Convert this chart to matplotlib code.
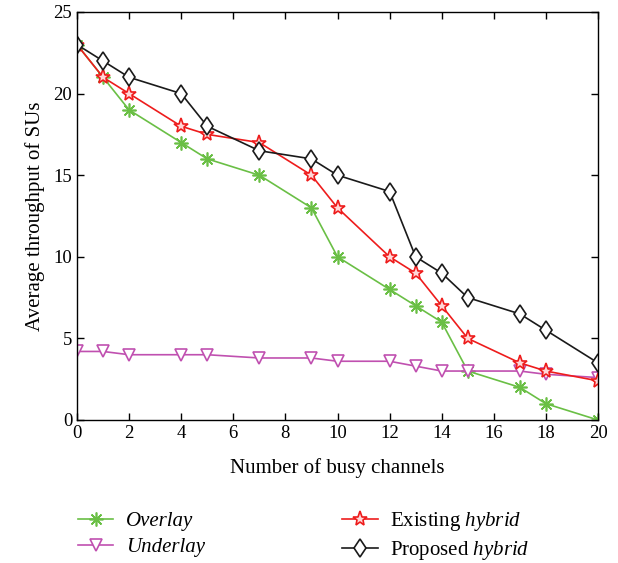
import matplotlib
matplotlib.use("Agg")
import matplotlib.pyplot as plt

plt.rcParams['font.family'] = ['Liberation Serif', 'DejaVu Serif']
plt.rcParams['mathtext.fontset'] = 'custom'
plt.rcParams['mathtext.it'] = 'Liberation Serif:italic'
plt.rcParams['mathtext.rm'] = 'Liberation Serif'

x = [0, 1, 2, 4, 5, 7, 9, 10, 12, 13, 14, 15, 17, 18, 20]
overlay = [23, 21, 19, 17, 16, 15, 13, 10, 8, 7, 6, 3, 2, 1, 0]
underlay = [4.2, 4.2, 4.0, 4.0, 4.0, 3.8, 3.8, 3.6, 3.6, 3.3, 3.0, 3.0, 3.0, 2.8, 2.6]
existing = [23, 21, 20, 18, 17.5, 17, 15, 13, 10, 9, 7, 5, 3.5, 3.0, 2.4]
proposed = [23, 22, 21, 20, 18, 16.5, 16, 15, 14, 10, 9, 7.5, 6.5, 5.5, 3.5]

fig = plt.figure(figsize=(6.18, 5.63), dpi=100)
ax = fig.add_axes([77/618, 1-420/563, (598-77)/618, (420-12)/563])

l1, = ax.plot(x, overlay, color='#6abf45', lw=1.2, marker=(8, 2, 0), ms=10, mew=1.2, label='Overlay')
l2, = ax.plot(x, underlay, color='#c050b0', lw=1.2, marker='v', ms=8, mfc='white', mew=1.2, label='Underlay')
l3, = ax.plot(x, existing, color='#ee1c1c', lw=1.2, marker='*', ms=11, mfc='#ffd8d8', mew=1.2, label=r'Existing $\mathit{hybrid}$')
l4, = ax.plot(x, proposed, color='#1a1a1a', lw=1.2, marker='d', ms=9.5, mfc='white', mew=1.2, label=r'Proposed $\mathit{hybrid}$')

ax.set_xlim(0, 20)
ax.set_ylim(0, 25)
ax.set_xticks(range(0, 21, 2))
ax.set_yticks(range(0, 26, 5))
ax.tick_params(direction='in', top=True, right=True, labelsize=13.5, length=5, width=1)
for s in ax.spines.values():
    s.set_linewidth(1.0)
ax.set_xlabel('Number of busy channels', fontsize=15, labelpad=12)
ax.set_ylabel('Average throughput of SUs', fontsize=15, labelpad=6)

leg = fig.legend(handles=[l1, l2, l3, l4], ncol=2, frameon=False, fontsize=15,
                 loc='upper left', bbox_to_anchor=(78/618, 1-510/563),
                 borderpad=0, borderaxespad=0, handlelength=1.7,
                 handletextpad=0.6, columnspacing=6.6, labelspacing=0.3)
for t in leg.get_texts()[:2]:
    t.set_style('italic')

fig.savefig('out.png', dpi=100)
